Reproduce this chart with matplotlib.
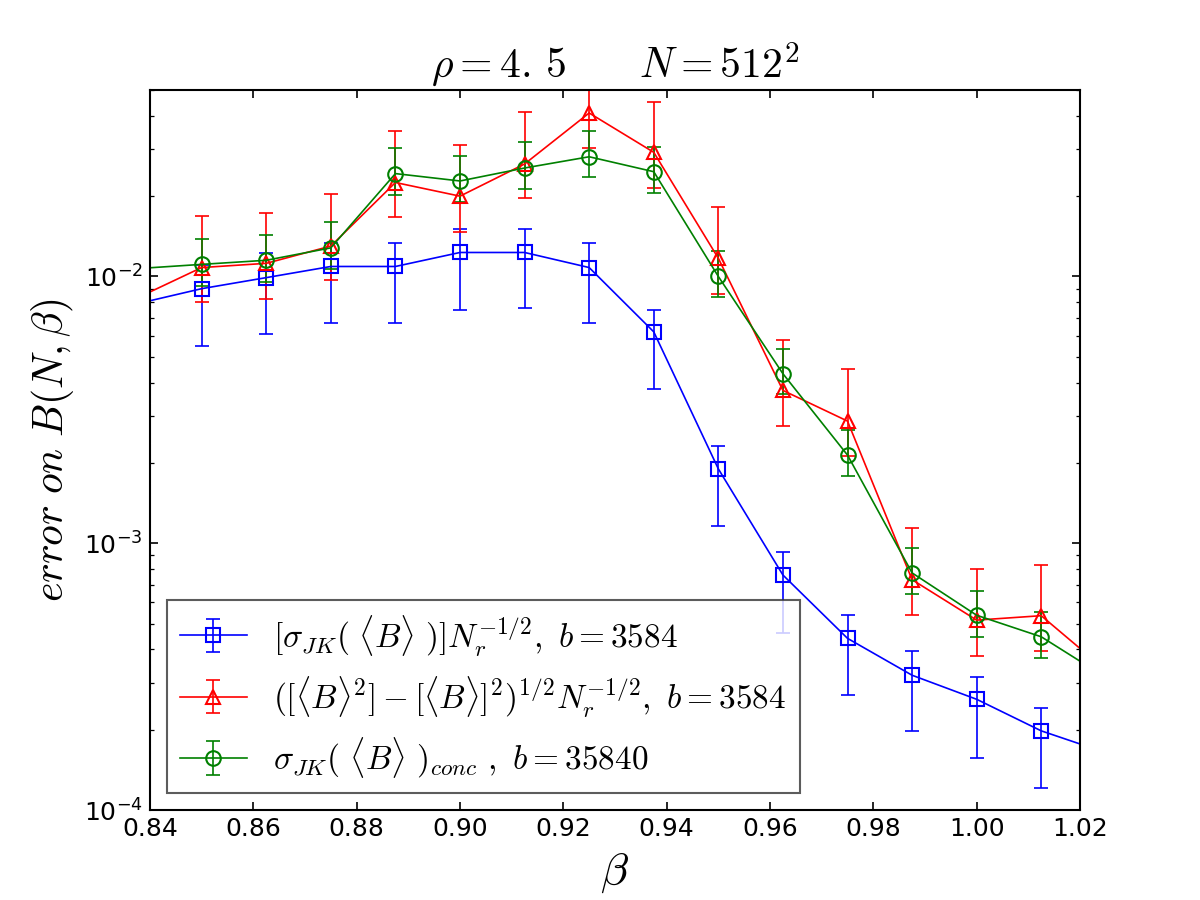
import numpy as np
import matplotlib
matplotlib.use('Agg')
import matplotlib.pyplot as plt

plt.rcParams['mathtext.fontset'] = 'cm'
plt.rcParams['font.size'] = 12
plt.rcParams['axes.unicode_minus'] = False
plt.rcParams['xtick.direction'] = 'in'
plt.rcParams['ytick.direction'] = 'in'
plt.rcParams['xtick.top'] = True
plt.rcParams['ytick.right'] = True
plt.rcParams['xtick.major.size'] = 4
plt.rcParams['ytick.major.size'] = 4
plt.rcParams['ytick.minor.size'] = 2
plt.rcParams['axes.linewidth'] = 1.0

beta = [0.8375, 0.85, 0.8625, 0.875, 0.8875, 0.9, 0.9125, 0.925,
        0.9375, 0.95, 0.9625, 0.975, 0.9875, 1.0, 1.0125, 1.025]

# jackknife error, b = 3584
jk_val = [0.0079, 0.0090, 0.0099, 0.0109, 0.0109, 0.0123, 0.0123, 0.0108,
          0.0062, 0.0019, 0.00076, 0.00044, 0.00032, 0.00026, 0.000198, 0.000164]
jk_lo = [0.0048, 0.0055, 0.0061, 0.0067, 0.0067, 0.0075, 0.0076, 0.0067,
         0.0038, 0.00116, 0.00046, 0.00027, 0.000198, 0.000157, 0.000121, 0.0001]
jk_hi = [0.0097, 0.0110, 0.0122, 0.0134, 0.0134, 0.0151, 0.0151, 0.0133,
         0.0075, 0.00232, 0.00093, 0.00054, 0.000395, 0.000314, 0.000242, 0.0002]

# variance estimate, b = 3584
var_val = [0.0083, 0.0108, 0.0112, 0.0130, 0.0225, 0.0200, 0.0264, 0.0410,
           0.0292, 0.0117, 0.00374, 0.00287, 0.00073, 0.000515, 0.000535, 0.000334]
var_lo = [0.0062, 0.0080, 0.0082, 0.0097, 0.0167, 0.0147, 0.0196, 0.0303,
          0.0214, 0.0086, 0.00274, 0.00212, 0.000537, 0.000379, 0.000394, 0.00025]
var_hi = [0.0130, 0.0169, 0.0173, 0.0204, 0.0352, 0.0310, 0.0412, 0.0640,
          0.0452, 0.0182, 0.0058, 0.00448, 0.00114, 0.00080, 0.00083, 0.00052]

# concatenated jackknife, b = 35840
conc_val = [0.0107, 0.0111, 0.0115, 0.0128, 0.0243, 0.0228, 0.0255, 0.0281,
            0.0247, 0.0100, 0.00432, 0.00214, 0.000774, 0.000537, 0.000446, 0.000314]
conc_lo = [0.0089, 0.0092, 0.0095, 0.0107, 0.0202, 0.0190, 0.0213, 0.0235,
           0.0205, 0.0084, 0.00363, 0.00178, 0.000644, 0.000444, 0.000372, 0.00026]
conc_hi = [0.0133, 0.0138, 0.0143, 0.0160, 0.0302, 0.0282, 0.0318, 0.0352,
           0.0305, 0.0125, 0.00536, 0.00265, 0.00096, 0.000663, 0.000553, 0.00039]

series = [
    (jk_val, jk_lo, jk_hi, 'b', 's',
     r'$[\sigma_{JK}(\ \langle B\rangle\ )]N_r^{-1/2},\ b=3584$'),
    (var_val, var_lo, var_hi, 'r', '^',
     r'$([\langle B\rangle^2]-[\langle B\rangle]^2)^{1/2}N_r^{-1/2},\ b=3584$'),
    (conc_val, conc_lo, conc_hi, 'g', 'o',
     r'$\sigma_{JK}(\ \langle B\rangle\ )_{conc}\ ,\ b=35840$'),
]

fig = plt.figure(figsize=(8, 6), dpi=150)
ax = fig.add_subplot(111)
fig.subplots_adjust(left=0.125, right=0.9, bottom=0.1, top=0.9)

for val, lo, hi, col, mk, lab in series:
    val = np.array(val)
    yerr = [val - np.array(lo), np.array(hi) - val]
    ax.errorbar(beta, val, yerr=yerr, color=col, marker=mk, mfc='none', mec=col,
                ms=7, lw=0.8, elinewidth=0.8, capsize=3.5, capthick=0.8, label=lab)

ax.set_yscale('log')
ax.set_xlim(0.84, 1.02)
ax.set_ylim(1e-4, 5e-2)
ax.set_xticks(np.arange(0.84, 1.0201, 0.02))
ax.set_xticklabels(['%.2f' % v for v in np.arange(0.84, 1.0201, 0.02)])
ax.set_title(r'$\rho=4.\,5\qquad N=512^2$', fontsize=20)
ax.set_xlabel(r'$\beta$', fontsize=22)
ax.set_ylabel(r'$error\ on\ B(N,\beta)$', fontsize=20)

leg = ax.legend(loc='lower left', numpoints=1, fontsize=16, fancybox=False,
                framealpha=0.8, borderaxespad=0.5)
leg.get_frame().set_edgecolor('0.2')
leg.get_frame().set_linewidth(1.0)

fig.savefig('out.png', dpi=150)
